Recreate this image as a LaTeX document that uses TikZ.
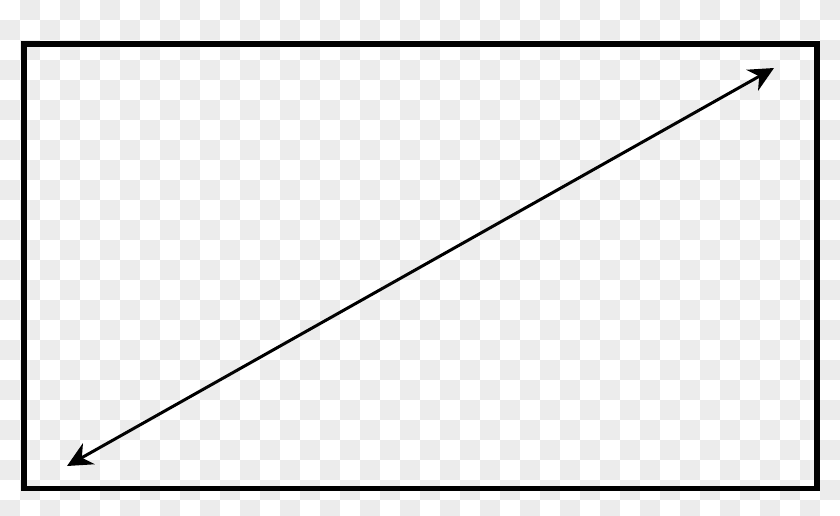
\documentclass[tikz,border=0pt]{standalone}
\usetikzlibrary{arrows.meta}
\definecolor{checkgray}{RGB}{236,236,236}

\begin{document}
\begin{tikzpicture}[x=1pt,y=-1pt,>={Stealth[length=25pt,width=24pt,inset=8pt]}]
  \useasboundingbox (0,0) rectangle (840,515);
  \begin{scope}
    \clip (0,0) rectangle (840,515);
    \fill[white] (0,0) rectangle (840,515);
    \foreach \i in {0,...,41}{
      \foreach \j in {0,...,25}{
        \ifodd\numexpr\i+\j\relax
          \fill[checkgray] (20*\i,20*\j) rectangle ++(20,20);
        \fi
      }
    }
  \end{scope}

  \draw[line width=5.5pt] (24,44) rectangle (817,488.5);

  \coordinate (lo) at (67,466);
  \coordinate (hi) at (774,68);
  \draw[line width=3pt,<->] (lo) -- (hi);
\end{tikzpicture}
\end{document}
